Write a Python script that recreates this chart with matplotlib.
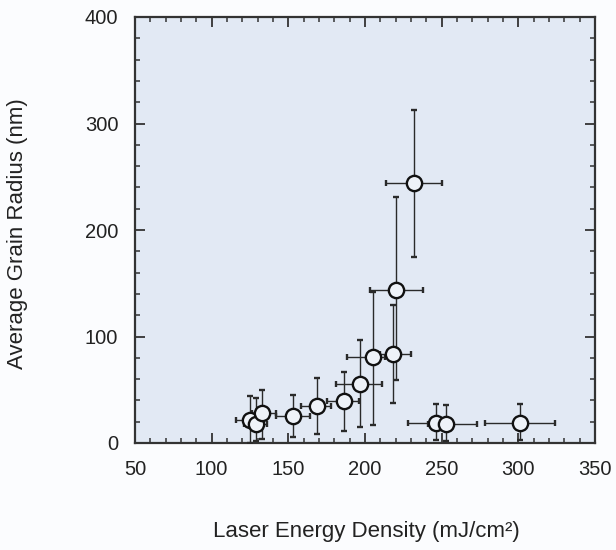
import matplotlib.pyplot as plt
from matplotlib.ticker import MultipleLocator

plt.rcParams['font.family'] = ['Liberation Sans', 'DejaVu Sans']

# data
energy = [125, 129, 133, 153, 169, 186, 197, 205, 218, 220, 232, 246, 253, 301]
radius = [22, 18, 28, 25, 35, 39, 55, 81, 84, 144, 244, 19, 18, 19]
x_lo = [9, 8, 7, 11, 11, 11, 16, 17, 8, 17, 18, 18, 12, 23]
x_hi = [6, 7, 9, 11, 9, 10, 14, 8, 12, 18, 18, 10, 20, 23]
y_lo = [22, 16, 24, 19, 27, 28, 40, 64, 46, 85, 69, 16, 16, 16]
y_hi = [22, 24, 22, 20, 26, 28, 42, 61, 46, 87, 69, 18, 18, 18]

fig = plt.figure(figsize=(6.16, 5.5), dpi=100)
fig.patch.set_facecolor('#fbfcfe')
ax = fig.add_axes([135 / 616, 1 - 443 / 550, 460 / 616, 426 / 550])
ax.set_facecolor('#e2e9f4')

ax.errorbar(energy, radius, xerr=[x_lo, x_hi], yerr=[y_lo, y_hi],
            fmt='o', color='black', ecolor='#2a2a2a', elinewidth=1.0,
            capsize=2.5, capthick=1.6, markersize=11,
            markerfacecolor='#eef2f8', markeredgecolor='#111111',
            markeredgewidth=1.7, zorder=3)

ax.set_xlim(50, 350)
ax.set_ylim(0, 400)
ax.xaxis.set_major_locator(MultipleLocator(50))
ax.xaxis.set_minor_locator(MultipleLocator(10))
ax.yaxis.set_major_locator(MultipleLocator(100))
ax.yaxis.set_minor_locator(MultipleLocator(20))
ax.tick_params(which='both', direction='in', top=True, right=True,
               color='#333333', labelsize=14.5, labelcolor='#222222')
ax.tick_params(axis='x', which='major', pad=12)
ax.tick_params(axis='y', which='major', pad=12)
ax.tick_params(which='major', length=7, width=1.3)
ax.tick_params(which='minor', length=3.5, width=1.1)
for s in ax.spines.values():
    s.set_linewidth(1.6)
    s.set_color('#333333')

fig.text(366 / 616, 1 - 531 / 550, 'Laser Energy Density (mJ/cm²)',
         ha='center', va='center', fontsize=16, color='#222222')
fig.text(18 / 616, 1 - 234 / 550, 'Average Grain Radius (nm)',
         ha='center', va='center', rotation=90, fontsize=16, color='#222222')

fig.savefig('out.png', dpi=100, facecolor=fig.get_facecolor())
